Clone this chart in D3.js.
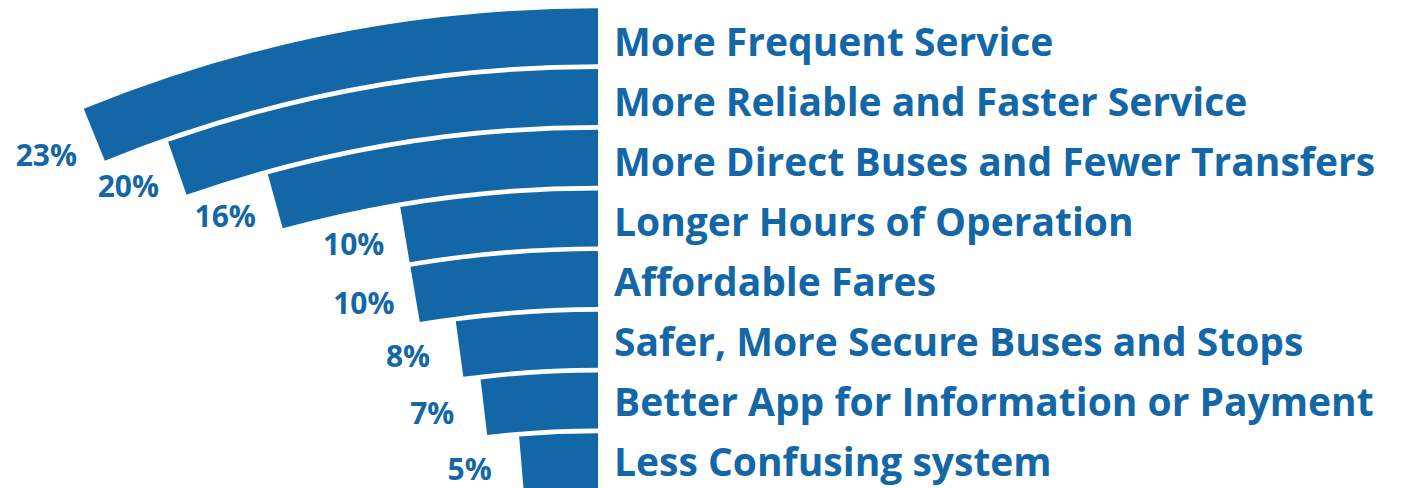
<!DOCTYPE html>
<html>
<head>
<meta charset="utf-8">
<script src="https://cdn.jsdelivr.net/npm/d3@7"></script>
<style>
  body { margin: 0; background: #fff; }
  svg { display: block; }
  .cat { font-family: "Open Sans", sans-serif; font-weight: 700; fill: #1467a7; }
  .pct { font-family: "Open Sans", sans-serif; font-weight: 700; fill: #1467a7; }
</style>
</head>
<body>
<div id="chart"></div>
<script>
// survey: what would make you ride more
const categories = [
  "More Frequent Service",
  "More Reliable and Faster Service",
  "More Direct Buses and Fewer Transfers",
  "Longer Hours of Operation",
  "Affordable Fares",
  "Safer, More Secure Buses and Stops",
  "Better App for Information or Payment",
  "Less Confusing system"
];
const values = [23, 20, 16, 10, 10, 8, 7, 5];
const valueLabels = ["23%", "20%", "16%", "10%", "10%", "8%", "7%", "5%"];

const width = 1406, height = 488;
const color = "#1467a7";
const cx = 598, cy = 1373.7;

const svg = d3.select("#chart").append("svg")
  .attr("width", width)
  .attr("height", height);

// angle: percent -> radians, rings counter-clockwise from 12 o'clock
const angle = d3.scaleLinear()
  .domain([0, 100])
  .range([0, 96.2 * Math.PI / 180]);

// radius bands, outermost ring first
const radius = d3.scaleBand()
  .domain(categories)
  .range([1365.4, 884.5])
  .paddingInner(0.077)
  .paddingOuter(0);

const labelY = d3.scalePoint()
  .domain(categories)
  .range([56, 476]);

const arc = d3.arc()
  .innerRadius(d => radius(d.cat))
  .outerRadius(d => radius(d.cat) + radius.bandwidth())
  .startAngle(d => -angle(d.value))
  .endAngle(0);

const data = categories.map((c, i) => ({ cat: c, value: values[i], label: valueLabels[i] }));

const g = svg.append("g").attr("transform", `translate(${cx},${cy})`);

g.selectAll("path.ring")
  .data(data)
  .enter()
  .append("path")
  .attr("class", "ring")
  .attr("d", arc)
  .attr("fill", color);

// percent labels just past the end of each ring, along its tangent
g.selectAll("text.pct")
  .data(data)
  .enter()
  .append("text")
  .attr("class", "pct")
  .attr("text-anchor", "middle")
  .attr("dy", "0.36em")
  .style("font-size", "30px")
  .attr("x", d => {
    let t = angle(d.value);
    let rm = radius(d.cat) + radius.bandwidth() / 2;
    return -rm * Math.sin(t) - 55 * Math.cos(t) + 3;
  })
  .attr("y", d => {
    let t = angle(d.value);
    let rm = radius(d.cat) + radius.bandwidth() / 2;
    return -rm * Math.cos(t) + 55 * Math.sin(t);
  })
  .text(d => d.label);

svg.selectAll("text.cat")
  .data(categories)
  .enter()
  .append("text")
  .attr("class", "cat")
  .attr("x", 614)
  .attr("y", d => labelY(d))
  .style("font-size", "39px")
  .text(d => d);
</script>
</body>
</html>
